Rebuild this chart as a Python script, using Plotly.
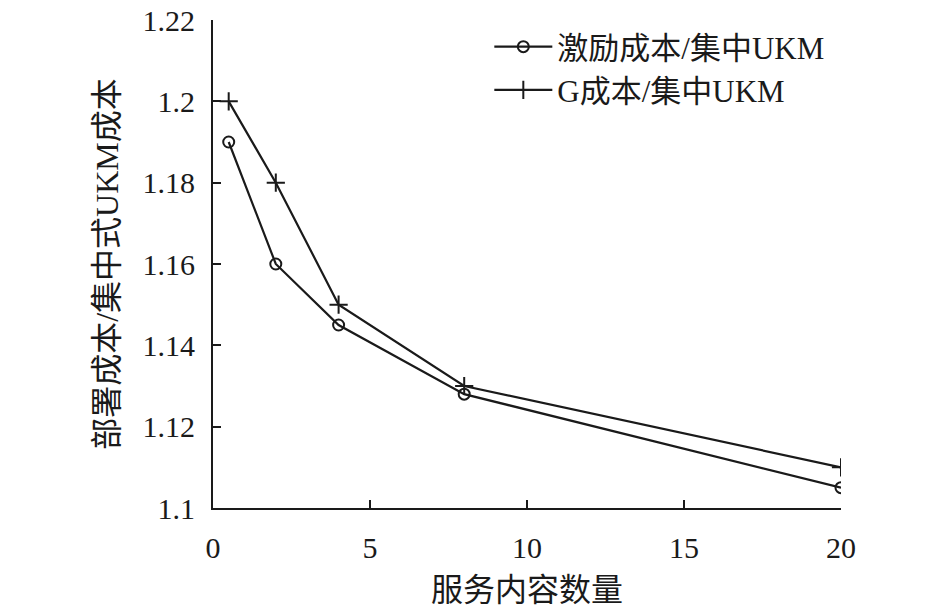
""" Deployment cost ratio vs number of service contents (line chart) """

import plotly.graph_objects as go

# Data
content_counts = [0.5, 2, 4, 8, 20]
incentive_cost = [1.19, 1.16, 1.145, 1.128, 1.105]
g_cost = [1.2, 1.18, 1.15, 1.13, 1.11]

series_names = ["激励成本/集中UKM", "G成本/集中UKM"]
x_ticks = [0, 5, 10, 15, 20]
y_ticks = [1.1, 1.12, 1.14, 1.16, 1.18, 1.2, 1.22]
y_tick_text = ["1.1", "1.12", "1.14", "1.16", "1.18", "1.2", "1.22"]

FONT = "Liberation Serif, Times New Roman, Noto Sans CJK SC, serif"
INK = "#1a1a1a"


def create_figure():
    fig = go.Figure()

    fig.add_trace(go.Scatter(
        x=content_counts, y=incentive_cost,
        mode="lines+markers",
        name=series_names[0],
        legendgroup="a",
        line=dict(color=INK, width=2.2),
        marker=dict(symbol="circle-open", size=11, color=INK,
                    line=dict(width=2)),
    ))
    fig.add_trace(go.Scatter(
        x=content_counts, y=g_cost,
        mode="lines+markers",
        name=series_names[1],
        legendgroup="b",
        line=dict(color=INK, width=2.2),
        marker=dict(symbol="cross-thin-open", size=13, color=INK,
                    line=dict(width=2, color=INK)),
    ))

    # page body has an 8px margin, so the figure is a bit smaller than the window
    fig.update_layout(
        width=938, height=600,
        margin=dict(l=205, r=105, t=12, b=100),
        paper_bgcolor="white",
        plot_bgcolor="white",
        font=dict(family=FONT, size=27, color=INK),
        showlegend=True,
        legend=dict(
            x=0.44, y=1.0, xanchor="left", yanchor="top",
            bgcolor="rgba(0,0,0,0)",
            itemwidth=58,
            tracegroupgap=0,
            font=dict(family=FONT, size=31),
        ),
        xaxis=dict(
            range=[0, 20],
            tickvals=x_ticks,
            ticks="inside", ticklen=8, tickwidth=2, tickcolor=INK,
            showline=True, linecolor=INK, linewidth=2,
            showgrid=False, zeroline=False,
            automargin=False,
            tickfont=dict(size=30),
            ticklabelstandoff=12,
            ticklabeloverflow="allow",
            title=dict(text="服务内容数量", standoff=16),
        ),
        yaxis=dict(
            range=[1.1, 1.22],
            tickvals=y_ticks, ticktext=y_tick_text,
            ticks="inside", ticklen=8, tickwidth=2, tickcolor=INK,
            showline=True, linecolor=INK, linewidth=2,
            showgrid=False, zeroline=False,
            automargin=False,
            tickfont=dict(size=30),
            ticklabelstandoff=10,
            ticklabeloverflow="allow",
            title=dict(text="部署成本/集中式UKM成本", standoff=14),
        ),
    )
    return fig


def main():
    fig = create_figure()
    fig.write_html("out.html")


if __name__ == "__main__":
    main()
